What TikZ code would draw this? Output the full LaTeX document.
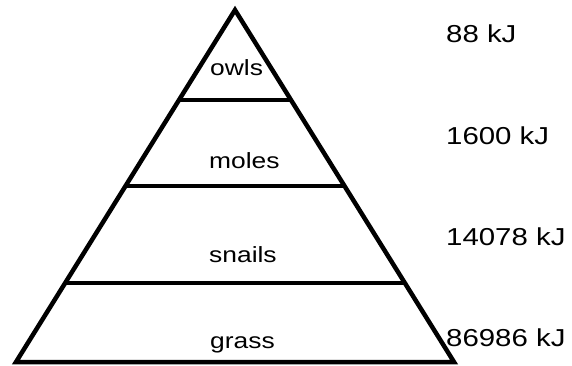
\documentclass[tikz,border=0pt]{standalone}
\usepackage{graphicx}
\usepackage{fontspec}
\setmainfont{Liberation Sans}
\usepackage{tikz}
\usetikzlibrary{calc}

\newcommand{\widetext}[1]{\scalebox{1.2}[1]{#1}}

\begin{document}
\begin{tikzpicture}[
    x=1pt, y=-1pt,
    edge/.style={line width=4.5pt, black, line join=miter},
    level/.style={font=\fontsize{22}{26}\selectfont, anchor=base west, inner sep=0pt},
    energy/.style={font=\fontsize{24.5}{28}\selectfont, anchor=base west, inner sep=0pt},
]
\useasboundingbox (0,0) rectangle (572,365);

% Pyramid outline
\coordinate (apex) at (235,10);
\coordinate (bl) at (16,362);
\coordinate (br) at (454,362);
\draw[edge] (bl) -- (apex) -- (br) -- cycle;

% Level dividers
\coordinate (l1) at ($(apex)!0.256!(bl)$);
\coordinate (r1) at ($(apex)!0.256!(br)$);
\coordinate (l2) at ($(apex)!0.500!(bl)$);
\coordinate (r2) at ($(apex)!0.500!(br)$);
\coordinate (l3) at ($(apex)!0.776!(bl)$);
\coordinate (r3) at ($(apex)!0.776!(br)$);
\draw[edge] (l1) -- (r1);
\draw[edge] (l2) -- (r2);
\draw[edge] (l3) -- (r3);

% Organisms
\node[level] (owls) at (210,75) {\widetext{owls}};
\node[level] (moles) at (209,168) {\widetext{moles}};
\node[level] (snails) at (209,262) {\widetext{snails}};
\node[level] (grass) at (210,348) {\widetext{grass}};

% Energy per level
\node[energy] (e1) at (446,42) {\widetext{88 kJ}};
\node[energy] (e2) at (446,144) {\widetext{1600 kJ}};
\node[energy] (e3) at (446,245) {\widetext{14078 kJ}};
\node[energy] (e4) at (446,346) {\widetext{86986 kJ}};

\end{tikzpicture}
\end{document}
